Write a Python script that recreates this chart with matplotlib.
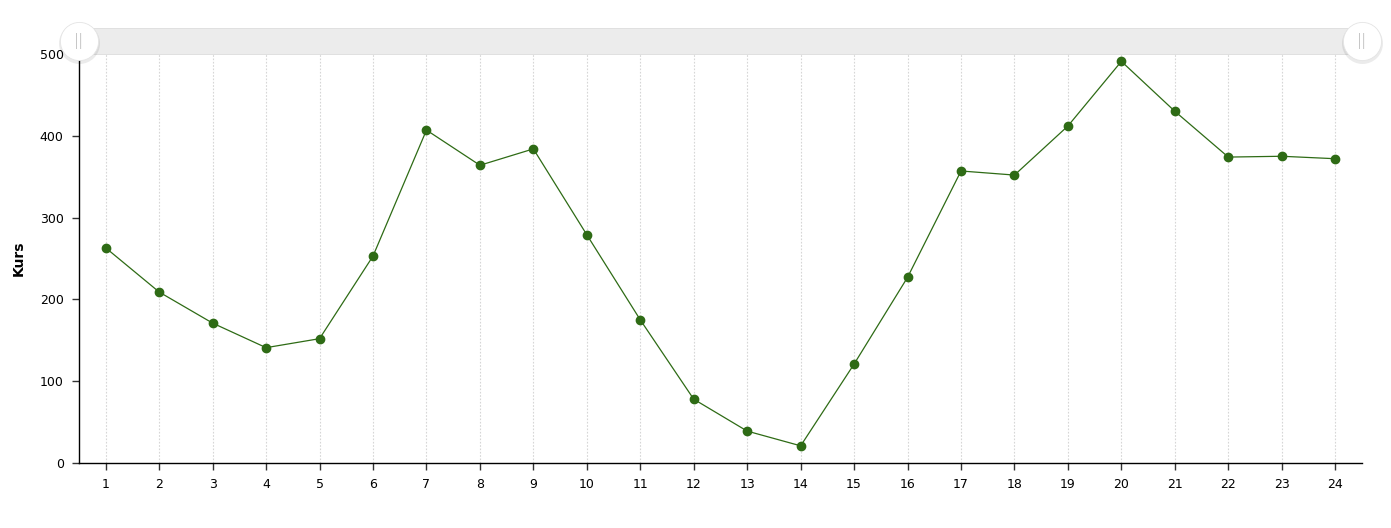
import matplotlib.pyplot as plt
from matplotlib.patches import Rectangle

OUT_PLOT = "out.png"

periods = list(range(1, 25))
kurs = [263, 209, 171, 141, 152, 253, 407, 364, 384, 279, 175, 78,
        39, 21, 121, 227, 357, 352, 412, 491, 430, 374, 375, 372]
y_ticks = [0, 100, 200, 300, 400, 500]

LINE_COLOR = "#2e6b15"


def draw_scrollbar(ax):
    # grey band above the plot area
    band = Rectangle((0, 1.0), 1, 0.0636, transform=ax.transAxes,
                     facecolor="#ececec", edgecolor="#dddddd", lw=0.6,
                     clip_on=False, zorder=5)
    ax.add_patch(band)
    for xa in (0, 1):
        yc = 1.0318
        # soft shadow
        ax.plot([xa], [yc - 0.004], marker="o", markersize=29.5, color="#000000",
                alpha=0.08, mec="none", transform=ax.transAxes,
                clip_on=False, zorder=6)
        ax.plot([xa], [yc], marker="o", markersize=27.5, color="white",
                mec="#e4e4e4", mew=0.6, transform=ax.transAxes,
                clip_on=False, zorder=7)
        ax.text(xa, yc, "||", transform=ax.transAxes, ha="center",
                va="center", fontsize=11, color="#b0b0b0",
                fontweight="light", zorder=8)


def main():
    fig = plt.figure(figsize=(13.91, 5.28), dpi=100)
    ax = fig.add_axes([0.0568, 0.1231, 0.9223, 0.7746])

    ax.plot(periods, kurs, color=LINE_COLOR, lw=0.9, marker="o",
            markersize=6, zorder=3)

    ax.set_xlim(0.5, 24.5)
    ax.set_ylim(0, 500)
    ax.set_xticks(periods)
    ax.set_yticks(y_ticks)
    ax.tick_params(axis="both", labelsize=9, length=5, width=1,
                   color="#333333", pad=6)
    ax.grid(axis="x", color="#d6d6d6", linestyle=(0, (1.5, 1.5)), lw=0.8)

    for side in ("top", "right"):
        ax.spines[side].set_visible(False)
    for side in ("left", "bottom"):
        ax.spines[side].set_linewidth(1.0)

    ax.set_ylabel("Kurs", fontsize=10, fontweight="bold", labelpad=10)

    draw_scrollbar(ax)

    fig.savefig(OUT_PLOT, dpi=100)
    plt.close(fig)


if __name__ == "__main__":
    main()
